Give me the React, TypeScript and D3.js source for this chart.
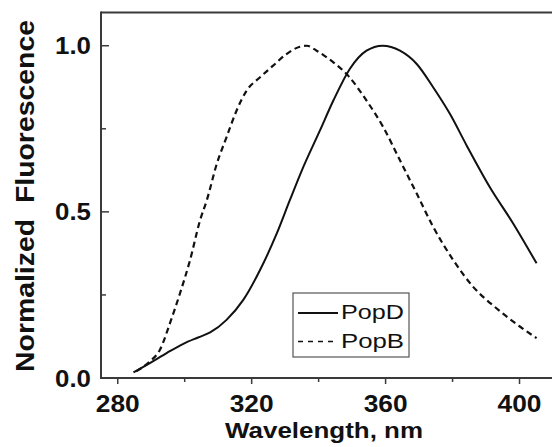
import * as d3 from "d3";

// emission spectra (nm, normalized)
const popDWave = [284.7, 289.6, 294.6, 299.6, 304, 307.6, 312.5, 317.5, 322.5, 327.5, 331.4, 335, 340.4, 344.4, 349.3, 354.3, 359.1, 364.3, 369.3, 374.2, 379.2, 384.2, 391.1, 398.1, 405.1];
const popDValue = [0.017, 0.045, 0.075, 0.103, 0.122, 0.137, 0.175, 0.235, 0.325, 0.435, 0.535, 0.625, 0.745, 0.835, 0.93, 0.985, 1.0, 0.985, 0.945, 0.875, 0.795, 0.7, 0.575, 0.465, 0.345];
const popBWave = [285.5, 289.6, 292.6, 295.6, 298.6, 301.6, 304.6, 306.6, 309.6, 312.5, 315.5, 318.5, 322.5, 326.4, 330.4, 334.4, 336.5, 339.4, 344.4, 348.8, 354.3, 359.3, 364.3, 369.3, 374.2, 380.2, 386.1, 393.1, 400.1, 405.1];
const popBValue = [0.02, 0.05, 0.085, 0.165, 0.255, 0.355, 0.475, 0.535, 0.645, 0.725, 0.805, 0.865, 0.905, 0.94, 0.975, 0.997, 1.0, 0.985, 0.95, 0.91, 0.835, 0.755, 0.655, 0.555, 0.455, 0.355, 0.275, 0.21, 0.155, 0.12];
const xMajor = [280, 320, 360, 400];
const xMinor = [300, 340, 380];
const yMajor = [0, 0.5, 1.0];
const yMinor = [0.25, 0.75];
const seriesNames = ["PopD", "PopB"];

const W = 552;
const H = 447;
const left = 101;
const top = 12.5;
const bottom = 378;
const right = 553;
const axisColor = "#3a3a3a";
const font = "'Liberation Sans', Arial, sans-serif";

export default function App() {
  const x = d3.scaleLinear().domain([275, 410]).range([left, right]);
  const y = d3.scaleLinear().domain([0, 1.1]).range([bottom, top]);

  const line = d3
    .line<[number, number]>()
    .x((d) => x(d[0]))
    .y((d) => y(d[1]))
    .curve(d3.curveMonotoneX);

  const popD = popDWave.map((w, i) => [w, popDValue[i]] as [number, number]);
  const popB = popBWave.map((w, i) => [w, popBValue[i]] as [number, number]);

  // legend placement
  const lx = 293;
  const ly = 293;

  return (
    <svg
      width={W}
      height={H}
      style={{ position: "absolute", left: 0, top: 0, background: "#fff" }}
      fontFamily={font}
    >
      {/* curves */}
      <path d={line(popD) || ""} fill="none" stroke="#111" strokeWidth={2} />
      <path
        d={line(popB) || ""}
        fill="none"
        stroke="#111"
        strokeWidth={2.2}
        strokeDasharray="6,4"
      />

      {/* frame */}
      <g stroke={axisColor} strokeWidth={2} fill="none">
        <line x1={left} x2={W} y1={top} y2={top} />
        <line x1={left} x2={W} y1={bottom} y2={bottom} />
        <line x1={left} x2={left} y1={top - 1} y2={bottom + 1} />
      </g>

      {/* y ticks: inward */}
      <g stroke={axisColor} strokeWidth={1.5}>
        {yMajor.map((v) => (
          <line key={"ym" + v} x1={left} x2={left + 8} y1={y(v)} y2={y(v)} />
        ))}
        {yMinor.map((v) => (
          <line key={"yn" + v} x1={left} x2={left + 5} y1={y(v)} y2={y(v)} />
        ))}
      </g>
      {yMajor.map((v) => (
        <text
          key={"yl" + v}
          transform={`translate(${left - 10},${y(v) + 8.5}) scale(1.1,1)`}
          textAnchor="end"
          fontSize={23.5}
          fontWeight="bold"
          fill="#111"
        >
          {d3.format(".1f")(v)}
        </text>
      ))}

      {/* x ticks: outward */}
      <g stroke={axisColor} strokeWidth={1.5}>
        {xMajor.map((v) => (
          <line key={"xm" + v} x1={x(v)} x2={x(v)} y1={bottom} y2={bottom + 6} />
        ))}
        {xMinor.map((v) => (
          <line key={"xn" + v} x1={x(v)} x2={x(v)} y1={bottom} y2={bottom + 4} />
        ))}
      </g>
      {xMajor.map((v) => (
        <text
          key={"xl" + v}
          transform={`translate(${x(v)},${411.5}) scale(1.12,1)`}
          textAnchor="middle"
          fontSize={23.5}
          fontWeight="bold"
          fill="#111"
        >
          {v}
        </text>
      ))}

      {/* axis titles */}
      <text
        x={324}
        y={438}
        textAnchor="middle"
        fontSize={22.5}
        fontWeight="bold"
        fill="#111"
        textLength={198}
        lengthAdjust="spacingAndGlyphs"
      >
        Wavelength, nm
      </text>
      <text
        transform="translate(34,196) rotate(-90)"
        textAnchor="middle"
        fontSize={26}
        fontWeight="bold"
        fill="#111"
        textLength={352}
        lengthAdjust="spacingAndGlyphs"
        style={{ whiteSpace: "pre" }}
      >
        {"Normalized  Fluorescence"}
      </text>

      {/* legend */}
      <rect
        x={lx}
        y={ly}
        width={116}
        height={64}
        fill="#fff"
        stroke="#555"
        strokeWidth={1.2}
      />
      <line x1={lx + 5} x2={lx + 45} y1={ly + 20} y2={ly + 20} stroke="#111" strokeWidth={2} />
      <line
        x1={lx + 5}
        x2={lx + 45}
        y1={ly + 48.5}
        y2={ly + 48.5}
        stroke="#111"
        strokeWidth={1.5}
        strokeDasharray="5,5"
      />
      {seriesNames.map((s, i) => (
        <text
          key={s}
          x={lx + 48}
          y={ly + 26 + i * 28.5}
          fontSize={21}
          fill="#111"
          textLength={63}
          lengthAdjust="spacingAndGlyphs"
        >
          {s}
        </text>
      ))}
    </svg>
  );
}
